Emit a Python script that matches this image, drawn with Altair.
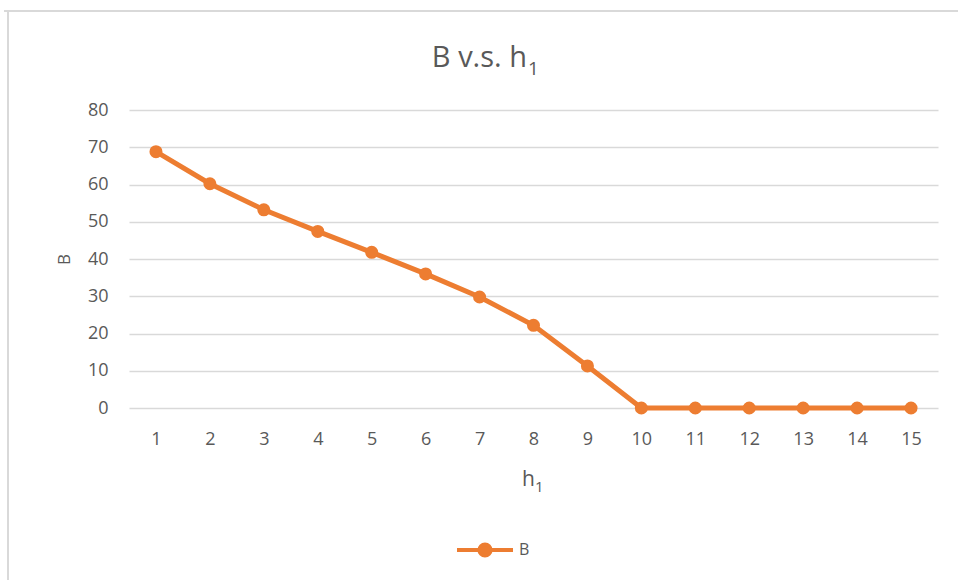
import altair as alt
import pandas as pd

# h1 categories and the corresponding B values
h1 = list(range(1, 16))
b_values = [68.8, 60.2, 53.2, 47.4, 41.8, 36.0, 29.8, 22.2, 11.3, 0, 0, 0, 0, 0, 0]
series_name = ["B"] * len(h1)
y_ticks = [0, 10, 20, 30, 40, 50, 60, 70, 80]

df = pd.DataFrame({"h1": h1, "B": b_values, "series": series_name})
one = pd.DataFrame({"k": [0]})  # single row for decoration marks

ORANGE = "#ED7D31"
TEXT = "#595959"
GRID = "#D9D9D9"
FONT = "Open Sans"

W, H = 809, 298

# custom legend glyph: a short line with a filled dot in the middle
legend_path = ("M-1,0L1,0M0.2,0A0.2,0.2 0 1 1 -0.2,0"
               "A0.2,0.2 0 1 1 0.2,0Z")

x_enc = alt.X(
    "h1:O",
    scale=alt.Scale(type="point", padding=0.5),
    axis=alt.Axis(title=None, labelAngle=0, domain=False, ticks=False,
                  labelPadding=22, labelFontSize=18, labelColor=TEXT,
                  labelFont=FONT, grid=False),
)
y_enc = alt.Y(
    "B:Q",
    scale=alt.Scale(domain=[0, 80], nice=False),
    axis=alt.Axis(values=y_ticks, title="B", domain=False, labelOverlap=False,
                  ticks=False, labelPadding=21, labelFontSize=18,
                  labelColor=TEXT, labelFont=FONT, gridColor=GRID,
                  gridWidth=1.5, titleFontSize=17, titleColor=TEXT,
                  titleFont=FONT, titleFontWeight="normal", titlePadding=14),
)
color_enc = alt.Color(
    "series:N",
    scale=alt.Scale(range=[ORANGE]),
    legend=alt.Legend(title=None, orient="none", legendX=326, legendY=410,
                      symbolType=legend_path, symbolSize=3136,
                      symbolStrokeWidth=4, symbolFillColor=ORANGE,
                      symbolStrokeColor=ORANGE, labelFontSize=16,
                      labelColor=TEXT, labelFont=FONT, labelOffset=4),
)

base = alt.Chart(df).encode(x=x_enc, y=y_enc, color=color_enc)
line = base.mark_line(strokeWidth=5)
points = base.mark_circle(size=170, opacity=1)

# chart title with a subscript
title_main = alt.Chart(one).mark_text(
    text="B v.s. h", font=FONT, fontSize=29, color=TEXT, align="right",
    baseline="alphabetic"
).encode(x=alt.value(398), y=alt.value(-43))
title_sub = alt.Chart(one).mark_text(
    text="1", font=FONT, fontSize=19, color=TEXT, align="left",
    baseline="alphabetic"
).encode(x=alt.value(399), y=alt.value(-35))

# x-axis title with a subscript
xt_main = alt.Chart(one).mark_text(
    text="h", font=FONT, fontSize=21, color=TEXT, align="right",
    baseline="alphabetic"
).encode(x=alt.value(406), y=alt.value(376))
xt_sub = alt.Chart(one).mark_text(
    text="1", font=FONT, fontSize=15, color=TEXT, align="left",
    baseline="alphabetic"
).encode(x=alt.value(406), y=alt.value(382))

# chart-area frame (top and left edges)
frame_top = alt.Chart(one).mark_rule(color=GRID, strokeWidth=2).encode(
    x=alt.value(-125), x2=alt.value(829), y=alt.value(-99)
)
frame_left = alt.Chart(one).mark_rule(color=GRID, strokeWidth=2).encode(
    x=alt.value(-121), y=alt.value(-99), y2=alt.value(470)
)

chart = alt.layer(
    frame_top, frame_left, line, points, title_main, title_sub, xt_main, xt_sub
).properties(
    width=W, height=H,
    autosize=alt.AutoSizeParams(type="none"),
    padding={"left": 129, "top": 110, "right": 20, "bottom": 172},
    background="white",
).configure_view(stroke=None)

chart.save("out.html", embed_options={"renderer": "svg", "actions": False})
